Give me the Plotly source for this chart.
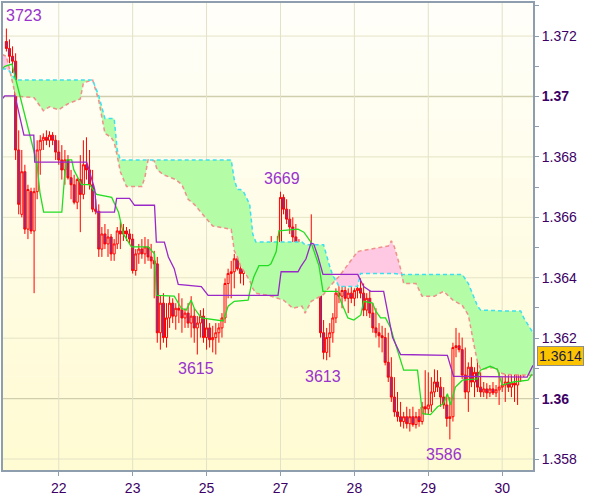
import numpy as np
import plotly.graph_objects as go

# ---------------- data (hourly bars; hour 0 = start of day "22") ----------------
bar_start = -17
opens = [1.37182,1.37159,1.37133,1.37117,1.36823,1.36610,1.36751,1.36561,1.36685,1.36555,
 1.36685,1.36823,1.36855,1.36865,1.36855,1.36872,1.36855,1.36816,1.36790,1.36757,
 1.36790,1.36731,1.36708,1.36650,1.36725,1.36676,1.36774,1.36757,1.36708,1.36627,
 1.36620,1.36495,1.36545,1.36512,1.36535,1.36479,1.36512,1.36555,1.36545,1.36555,
 1.36545,1.36528,1.36424,1.36479,1.36495,1.36479,1.36502,1.36469,1.36456,1.36446,
 1.36218,1.36316,1.36202,1.36267,1.36316,1.36273,1.36299,1.36293,1.36267,1.36283,
 1.36250,1.36273,1.36234,1.36250,1.36273,1.36202,1.36234,1.36195,1.36202,1.36218,
 1.36234,1.36267,1.36381,1.36414,1.36420,1.36463,1.36430,1.36414,1.36430,1.36495,
 1.36512,1.36469,1.36456,1.36469,1.36456,1.36469,1.36440,1.36456,1.36446,1.36479,
 1.36666,1.36627,1.36594,1.36568,1.36535,1.36469,1.36495,1.36456,1.36404,1.36446,
 1.36456,1.36404,1.36371,1.36218,1.36153,1.36202,1.36218,1.36267,1.36349,1.36339,
 1.36358,1.36332,1.36349,1.36332,1.36358,1.36365,1.36349,1.36293,1.36332,1.36283,
 1.36234,1.36218,1.36208,1.36202,1.36120,1.36071,1.36005,1.35956,1.35940,1.35924,
 1.35940,1.35917,1.35940,1.35914,1.35940,1.35924,1.35973,1.35966,1.35979,1.36022,
 1.36055,1.36038,1.36005,1.35979,1.35934,1.35940,1.36169,1.36175,1.36162,1.36078,
 1.36022,1.36104,1.36055,1.36087,1.36038,1.36022,1.36032,1.36019,1.36032,1.36019,
 1.36029,1.36038,1.36045,1.36055,1.36038,1.36051,1.36045,1.36087,1.36120,1.36104,
 1.36137]
highs = [1.37225,1.37189,1.37166,1.37143,1.36888,1.36823,1.36774,1.36708,1.36698,1.36698,
 1.36855,1.36872,1.36878,1.36888,1.36885,1.36882,1.36872,1.36855,1.36839,1.36823,
 1.36806,1.36757,1.36741,1.36731,1.36806,1.36855,1.36865,1.36823,1.36757,1.36660,
 1.36643,1.36568,1.36578,1.36561,1.36545,1.36528,1.36568,1.36587,1.36578,1.36568,
 1.36561,1.36545,1.36495,1.36512,1.36528,1.36535,1.36528,1.36512,1.36489,1.36469,
 1.36342,1.36349,1.36316,1.36339,1.36332,1.36316,1.36349,1.36332,1.36299,1.36316,
 1.36339,1.36299,1.36273,1.36293,1.36299,1.36267,1.36250,1.36241,1.36250,1.36250,
 1.36283,1.36398,1.36430,1.36456,1.36479,1.36479,1.36463,1.36446,1.36528,1.36538,
 1.36528,1.36495,1.36479,1.36489,1.36479,1.36479,1.36538,1.36512,1.36538,1.36685,
 1.36676,1.36660,1.36627,1.36600,1.36578,1.36528,1.36512,1.36479,1.36495,1.36610,
 1.36479,1.36430,1.36414,1.36260,1.36234,1.36250,1.36283,1.36365,1.36381,1.36371,
 1.36381,1.36365,1.36381,1.36365,1.36381,1.36398,1.36381,1.36349,1.36358,1.36316,
 1.36299,1.36250,1.36241,1.36234,1.36218,1.36137,1.36071,1.36022,1.35989,1.35956,
 1.35973,1.35966,1.35973,1.35956,1.35966,1.35989,1.36094,1.36087,1.36071,1.36097,
 1.36094,1.36071,1.36038,1.36012,1.36005,1.36185,1.36234,1.36218,1.36202,1.36169,
 1.36120,1.36137,1.36104,1.36143,1.36087,1.36055,1.36051,1.36045,1.36055,1.36045,
 1.36120,1.36071,1.36097,1.36078,1.36087,1.36097,1.36137,1.36153,1.36169,1.36185,
 1.36169]
lows = [1.37149,1.37110,1.37078,1.36790,1.36610,1.36600,1.36545,1.36528,1.36545,1.36349,
 1.36660,1.36741,1.36823,1.36839,1.36832,1.36839,1.36790,1.36774,1.36725,1.36708,
 1.36725,1.36660,1.36643,1.36627,1.36551,1.36660,1.36725,1.36692,1.36617,1.36610,
 1.36469,1.36469,1.36495,1.36469,1.36456,1.36456,1.36495,1.36495,1.36522,1.36522,
 1.36512,1.36414,1.36407,1.36446,1.36463,1.36446,1.36456,1.36430,1.36332,1.36185,
 1.36162,1.36185,1.36169,1.36234,1.36250,1.36228,1.36250,1.36218,1.36234,1.36234,
 1.36202,1.36185,1.36146,1.36202,1.36185,1.36162,1.36169,1.36153,1.36146,1.36185,
 1.36202,1.36250,1.36332,1.36332,1.36365,1.36424,1.36381,1.36375,1.36414,1.36430,
 1.36456,1.36437,1.36437,1.36446,1.36430,1.36430,1.36430,1.36437,1.36437,1.36456,
 1.36610,1.36578,1.36545,1.36512,1.36456,1.36424,1.36437,1.36388,1.36381,1.36424,
 1.36391,1.36358,1.36202,1.36130,1.36127,1.36137,1.36185,1.36250,1.36316,1.36299,
 1.36322,1.36283,1.36316,1.36306,1.36332,1.36332,1.36273,1.36273,1.36267,1.36218,
 1.36202,1.36169,1.36153,1.36110,1.36055,1.35989,1.35940,1.35924,1.35907,1.35901,
 1.35901,1.35891,1.35907,1.35901,1.35907,1.35914,1.35947,1.35947,1.35956,1.36005,
 1.36022,1.35973,1.35966,1.35907,1.35865,1.35924,1.36137,1.36153,1.36065,1.35999,
 1.35956,1.36038,1.36005,1.36022,1.36005,1.36005,1.35999,1.36005,1.36012,1.36005,
 1.35979,1.36022,1.35989,1.36022,1.36005,1.35989,1.35979,1.36055,1.36071,1.36087,
 1.36110]
closes = [1.37159,1.37133,1.37117,1.36823,1.36643,1.36751,1.36561,1.36692,1.36555,1.36685,
 1.36823,1.36855,1.36865,1.36855,1.36872,1.36855,1.36816,1.36790,1.36757,1.36790,
 1.36731,1.36708,1.36650,1.36725,1.36676,1.36774,1.36757,1.36708,1.36627,1.36620,
 1.36495,1.36545,1.36512,1.36535,1.36479,1.36512,1.36555,1.36545,1.36555,1.36545,
 1.36528,1.36424,1.36479,1.36495,1.36479,1.36502,1.36469,1.36456,1.36446,1.36218,
 1.36316,1.36202,1.36267,1.36316,1.36273,1.36299,1.36293,1.36267,1.36283,1.36250,
 1.36273,1.36234,1.36250,1.36273,1.36202,1.36234,1.36195,1.36202,1.36218,1.36234,
 1.36267,1.36381,1.36414,1.36420,1.36463,1.36430,1.36414,1.36430,1.36495,1.36512,
 1.36469,1.36456,1.36469,1.36456,1.36469,1.36440,1.36456,1.36446,1.36479,1.36666,
 1.36627,1.36594,1.36568,1.36535,1.36469,1.36495,1.36456,1.36404,1.36446,1.36456,
 1.36404,1.36371,1.36218,1.36153,1.36202,1.36218,1.36267,1.36349,1.36339,1.36358,
 1.36332,1.36349,1.36332,1.36358,1.36365,1.36349,1.36293,1.36332,1.36283,1.36234,
 1.36218,1.36208,1.36202,1.36120,1.36071,1.36005,1.35956,1.35940,1.35924,1.35940,
 1.35917,1.35940,1.35914,1.35940,1.35924,1.35973,1.35966,1.35979,1.36022,1.36055,
 1.36038,1.36005,1.35979,1.35934,1.35940,1.36169,1.36175,1.36162,1.36078,1.36022,
 1.36104,1.36055,1.36087,1.36038,1.36022,1.36032,1.36019,1.36032,1.36019,1.36029,
 1.36038,1.36045,1.36055,1.36038,1.36051,1.36045,1.36087,1.36120,1.36104,1.36137,
 1.36140]

# Ichimoku: Tenkan-sen (green) and Kijun-sen (purple) breakpoints
tenkan_h = [-18.4,-17.5,-15.2,-7.1,-6.1,-4.9,1.0,1.9,2.6,4.2,4.9,7.4,10.0,12.3,17.2,19.4,21.0,23.6,
 29.1,31.1,31.7,37.5,39.8,41.4,43.0,44.0,46.3,53.4,55.0,57.0,61.5,62.5,63.4,65.0,68.0,68.9,70.6,
 71.5,77.7,79.6,81.9,83.5,84.5,85.8,90.6,91.6,93.9,95.8,98.1,99.0,101.9,102.9,104.5,106.1,107.8,
 108.7,111.0,112.0,116.5,118.1,120.7,123.0,124.9,126.2,127.2,128.8,131.1,135.9,136.9,140.1,142.4,
 144.0,147.6,152.4,153.7]
tenkan = [1.37091,1.37100,1.37107,1.36780,1.36682,1.36617,1.36617,1.36735,1.36790,1.36790,1.36757,
 1.36708,1.36708,1.36676,1.36666,1.36617,1.36545,1.36502,1.36502,1.36479,1.36342,1.36339,1.36299,
 1.36293,1.36326,1.36299,1.36267,1.36257,1.36306,1.36322,1.36326,1.36375,1.36404,1.36440,1.36440,
 1.36446,1.36486,1.36555,1.36561,1.36551,1.36518,1.36473,1.36440,1.36355,1.36355,1.36322,1.36267,
 1.36260,1.36277,1.36322,1.36316,1.36290,1.36267,1.36267,1.36234,1.36202,1.36127,1.36094,1.36094,
 1.35950,1.35947,1.35973,1.35983,1.36016,1.35979,1.36038,1.36061,1.36065,1.36094,1.36107,1.36097,
 1.36045,1.36055,1.36061,1.36081]
kijun_h = [-18.4,-17.5,-14.2,-11.3,-8.1,-7.8,9.1,10.7,11.7,12.3,18.1,18.8,23.0,24.6,31.1,31.7,34.3,
 35.6,37.5,38.8,46.3,48.5,71.2,72.2,77.7,78.6,80.3,81.9,82.8,84.1,85.8,97.1,99.0,101.3,105.5,108.4,
 111.0,126.2,128.2,152.1,154.0]
kijun = [1.36992,1.37002,1.37002,1.36872,1.36872,1.36783,1.36783,1.36725,1.36692,1.36617,1.36617,
 1.36663,1.36663,1.36640,1.36640,1.36518,1.36518,1.36469,1.36430,1.36378,1.36371,1.36342,1.36342,
 1.36420,1.36420,1.36437,1.36463,1.36515,1.36512,1.36473,1.36411,1.36411,1.36371,1.36355,1.36355,
 1.36202,1.36146,1.36143,1.36074,1.36071,1.36110]

# Senkou spans A (cyan) and B (salmon) on a common grid
cloud_h = [-18.4,-17,-16,-15,-14,-8,-5,-3,0,3,7,8,11,13,15,17,18,19,20,22,27,28,29,31,32,34,38,40,42,
 44,46,50,56,57,58,59,60,62,63,64,68,73,76,79,80,82,85,86,88,89,90,91,97,98,107,108,109,111,112,116,
 118,122,125,128,131,133,134,135,136,137,142,143,145,150,151,154]
span_a = [1.37091,1.37091,1.37084,1.37071,1.37055,1.37055,1.37055,1.37055,1.37055,1.37055,1.37055,
 1.37055,1.37055,1.37002,1.36927,1.36927,1.36927,1.36823,1.36790,1.36790,1.36790,1.36790,1.36790,
 1.36790,1.36790,1.36790,1.36790,1.36790,1.36790,1.36790,1.36790,1.36790,1.36790,1.36725,1.36692,
 1.36692,1.36685,1.36643,1.36545,1.36518,1.36518,1.36518,1.36518,1.36518,1.36509,1.36509,1.36509,
 1.36509,1.36437,1.36407,1.36391,1.36371,1.36371,1.36414,1.36414,1.36414,1.36414,1.36411,1.36411,
 1.36411,1.36411,1.36411,1.36411,1.36411,1.36411,1.36381,1.36358,1.36332,1.36306,1.36293,1.36290,
 1.36290,1.36290,1.36290,1.36267,1.36218]
span_b = [1.37139,1.37133,1.37091,1.37045,1.37002,1.36996,1.36953,1.36966,1.36956,1.36976,1.36992,
 1.37045,1.37055,1.36986,1.36878,1.36865,1.36849,1.36803,1.36751,1.36702,1.36702,1.36734,1.36790,
 1.36787,1.36757,1.36741,1.36725,1.36708,1.36660,1.36643,1.36620,1.36571,1.36561,1.36489,1.36469,
 1.36440,1.36424,1.36391,1.36365,1.36349,1.36342,1.36326,1.36299,1.36306,1.36283,1.36322,1.36339,
 1.36345,1.36371,1.36384,1.36394,1.36404,1.36486,1.36489,1.36505,1.36522,1.36502,1.36430,1.36381,
 1.36381,1.36339,1.36339,1.36355,1.36326,1.36309,1.36277,1.36218,1.36169,1.36120,1.36097,1.36104,
 1.36087,1.36080,1.36077,1.36077,1.36077]

day_ticks = [0, 24, 48, 72, 96, 120, 144]
day_labels = ["22", "23", "25", "27", "28", "29", "30"]
price_ticks = [1.358, 1.360, 1.362, 1.364, 1.366, 1.368, 1.370, 1.372]
price_labels = ["1.358", "<b>1.36</b>", "1.362", "1.364", "1.366", "1.368", "<b>1.37</b>", "1.372"]
minor_ticks = [1.357, 1.359, 1.361, 1.363, 1.365, 1.367, 1.369, 1.371, 1.373]

extreme_labels = ["3723", "3669", "3615", "3613", "3586"]
extreme_h = [-17.8, 72.5, 44.7, 85.8, 125.1]
extreme_p = [1.37267, 1.36728, 1.36100, 1.36074, 1.35814]
last_price = "1.3614"

# ---------------- figure ----------------
bars = list(range(bar_start, bar_start + len(closes)))
YMIN, YMAX = 1.357637, 1.373095
XMIN, XMAX = -18.1, 154.0

GREEN_FILL = "#b4fca6"
PINK_FILL = "#ffc9e3"

a = np.array(span_a)
b = np.array(span_b)
lower = np.minimum(a, b)

fig = go.Figure()
# cloud fills
fig.add_trace(go.Scatter(x=cloud_h, y=lower, mode="lines", line=dict(width=0), hoverinfo="skip"))
fig.add_trace(go.Scatter(x=cloud_h, y=a, mode="lines", line=dict(width=0), fill="tonexty",
                         fillcolor=GREEN_FILL, hoverinfo="skip"))
fig.add_trace(go.Scatter(x=cloud_h, y=lower, mode="lines", line=dict(width=0), hoverinfo="skip"))
fig.add_trace(go.Scatter(x=cloud_h, y=b, mode="lines", line=dict(width=0), fill="tonexty",
                         fillcolor=PINK_FILL, hoverinfo="skip"))
# span lines
fig.add_trace(go.Scatter(x=cloud_h, y=span_b, mode="lines",
                         line=dict(color="#f0908a", width=1.5, dash="4px,3px")))
fig.add_trace(go.Scatter(x=cloud_h, y=span_a, mode="lines",
                         line=dict(color="#3ee0ee", width=1.5, dash="4px,3px")))
# candles
fig.add_trace(go.Candlestick(
    x=bars, open=opens, high=highs, low=lows, close=closes,
    increasing=dict(line=dict(color="#ff0000", width=1), fillcolor="rgba(0,0,0,0)"),
    decreasing=dict(line=dict(color="#ff0000", width=1), fillcolor="#6a3aae"),
    whiskerwidth=0, hoverinfo="skip"))
# tenkan / kijun
fig.add_trace(go.Scatter(x=tenkan_h, y=tenkan, mode="lines", line=dict(color="#22dd22", width=1.3)))
fig.add_trace(go.Scatter(x=kijun_h, y=kijun, mode="lines", line=dict(color="#9a28c8", width=1.3)))

shapes = []
# vertical gradient background (white -> pale yellow)
n = 40
for i in range(n):
    t = (i + 0.5) / n  # 0 top -> 1 bottom
    r, g, bb = 255, 255 - 4 * t, 250 - 40 * t
    shapes.append(dict(type="rect", xref="paper", yref="paper", x0=0, x1=1,
                       y0=1 - (i + 1) / n, y1=1 - i / n + 0.001, line=dict(width=0),
                       fillcolor=f"rgb({r},{int(g)},{int(bb)})", layer="below"))
# grid lines
for v in price_ticks:
    strong = v in (1.360, 1.370)
    shapes.append(dict(type="line", xref="paper", yref="y", x0=0, x1=1, y0=v, y1=v,
                       line=dict(color="#cfcfae" if strong else "#e4e4c6", width=1.3 if strong else 1),
                       layer="below"))
for v in day_ticks:
    shapes.append(dict(type="line", xref="x", yref="paper", x0=v, x1=v, y0=0, y1=1,
                       line=dict(color="#e2e2c8", width=1), layer="below"))

annotations = []
for txt, hx, py in zip(extreme_labels, extreme_h, extreme_p):
    annotations.append(dict(x=hx, y=py, xref="x", yref="y", text=txt, showarrow=False,
                            xanchor="left" if hx < -17 else "center", yanchor="middle",
                            font=dict(family="Liberation Sans, Arial", size=16, color="#9933cc")))
annotations.append(dict(x=1, y=closes[-1], xref="paper", yref="y", text=last_price, showarrow=False,
                        xanchor="left", yanchor="middle", xshift=4,
                        bgcolor="#fcc400", bordercolor="#8c8c8c", borderwidth=1, borderpad=1,
                        font=dict(family="Liberation Sans, Arial", size=14, color="#1a1a40")))

fig.update_layout(
    width=600, height=497,
    margin=dict(l=1, r=67, t=1, b=23),
    paper_bgcolor="#ffffff", plot_bgcolor="rgba(0,0,0,0)",
    showlegend=False, shapes=shapes, annotations=annotations, boxgap=0.05,
    xaxis=dict(range=[XMIN, XMAX], tickvals=day_ticks, ticktext=day_labels, showgrid=False,
               zeroline=False, rangeslider=dict(visible=False), showline=True, mirror=True,
               linecolor="#8e9eae", linewidth=2, ticks="outside", ticklen=4, tickcolor="#8e9eae",
               tickfont=dict(family="Liberation Sans, Arial", size=14, color="#3c0066")),
    yaxis=dict(range=[YMIN, YMAX], side="right", tickvals=price_ticks, ticktext=price_labels,
               showgrid=False, zeroline=False, showline=True, mirror=True,
               linecolor="#8e9eae", linewidth=2, ticks="outside", ticklen=4, tickcolor="#8e9eae",
               minor=dict(tickvals=minor_ticks, ticks="outside", ticklen=4, tickcolor="#8e9eae",
                          showgrid=False),
               tickfont=dict(family="Liberation Sans, Arial", size=14, color="#3c0066")),
)

fig.write_html("out.html", config={"displayModeBar": False},
               post_script="document.body.style.margin='0';document.body.style.overflow='hidden';")
